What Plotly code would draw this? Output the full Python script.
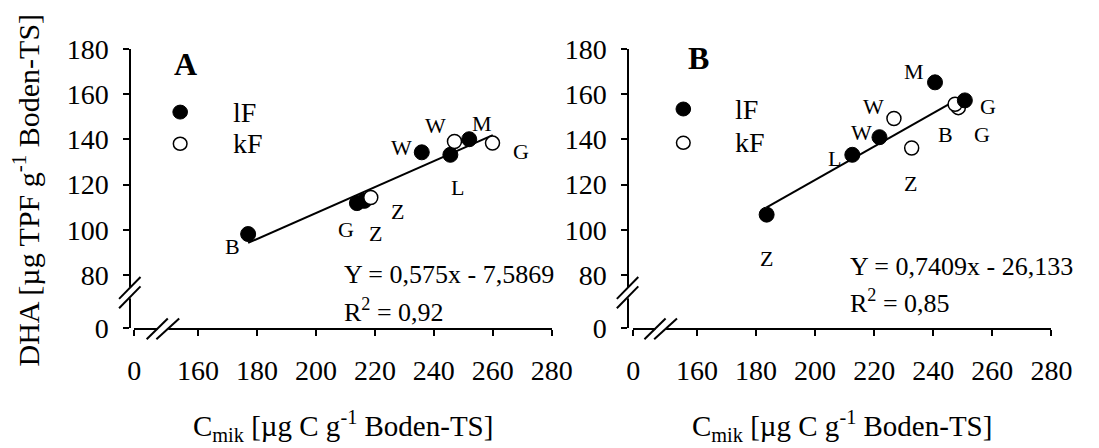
import plotly.graph_objects as go

# --- data: DHA vs. microbial biomass C, two sites (A, B) ---
# lF / kF series, sample labels
a_lf_x = [177.0, 213.9, 216.4, 235.9, 245.6, 252.0]
a_lf_y = [98.1, 111.8, 112.8, 134.3, 133.2, 140.1]
a_lf_lab = ["B", "G", "Z", "W", "L", "M"]
a_kf_x = [218.6, 247.0, 259.9]
a_kf_y = [114.3, 139.1, 138.4]
a_kf_lab = ["Z", "W", "G"]

b_lf_x = [183.6, 212.6, 221.8, 240.6, 250.7]
b_lf_y = [106.7, 133.2, 141.0, 165.3, 157.3]
b_lf_lab = ["Z", "L", "W", "M", "G"]
b_kf_x = [226.7, 232.7, 248.5, 247.4]
b_kf_y = [149.3, 136.2, 154.1, 155.6]
b_kf_lab = ["W", "Z", "B", "G"]

# regression coefficients (slope, intercept, R²) and fitted x-extent
fit_a = (0.575, -7.5869, "0,92")
fit_b = (0.7409, -26.133, "0,85")
fit_a_x = [177.0, 260.0]
fit_b_x = [183.6, 247.6]

x_ticks = [160, 180, 200, 220, 240, 260, 280]
y_ticks = [80, 100, 120, 140, 160, 180]

# --- label offsets in pixels (dx right, dy down) ---
off_a_lf = [(-15.6, 12.7), (-10.7, 26.6), (11.6, 32.4), (-20.7, -4.6), (7.3, 32.7), (12.4, -16)]
off_a_kf = [(26.7, 14.3), (-18.6, -16.4), (28.4, 8.7)]
off_b_lf = [(0, 44.3), (-18, 4), (-18.3, -4.3), (-20.6, -11.3), (23, 5.6)]
off_b_kf = [(-20, -11.7), (-1.6, 35.6), (-12.7, 26.7), (26.5, 30.3)]

W, H = 1099, 448
FONT = "Liberation Serif, Times New Roman, serif"


def fx(px):
    return px / W


def fy(py):
    return 1 - py / H


# broken axes: the lowest tick stands for 0
X_LOW = 138.4
Y_LOW = 56.3
Y_TOP_PX, Y_BOT_PX = 36.7, 336.7

panels = [
    dict(name="A", lf=(a_lf_x, a_lf_y, a_lf_lab, off_a_lf), kf=(a_kf_x, a_kf_y, a_kf_lab, off_a_kf),
         fit=fit_a, fit_x=fit_a_x, yline=126.7, xdom=(130.7, 559.0), letter=(182.7, 52.5),
         leg=(177.7, 104.3, 138.3, 230), eq=(343.3, 279.3, 317.7), kf_on_top=True),
    dict(name="B", lf=(b_lf_x, b_lf_y, b_lf_lab, off_b_lf), kf=(b_kf_x, b_kf_y, b_kf_lab, off_b_kf),
         fit=fit_b, fit_x=fit_b_x, yline=637.5, xdom=(642.5, 1071.7), letter=(710.0, 46.0),
         leg=(694.0, 101.0, 137.3, 745), eq=(862.7, 270.0, 308.3), kf_on_top=False),
]

fig = go.Figure()
annotations = []
shapes = []

for i, p in enumerate(panels):
    sfx = "" if i == 0 else str(i + 1)
    xa, ya = "x" + sfx, "y" + sfx

    lf_x, lf_y, lf_lab, lf_off = p["lf"]
    kf_x, kf_y, kf_lab, kf_off = p["kf"]
    slope, icpt, r2 = p["fit"]

    # regression line from the stated equation
    fig.add_trace(go.Scatter(
        x=p["fit_x"], y=[slope * v + icpt for v in p["fit_x"]], mode="lines",
        line=dict(color="black", width=2), xaxis=xa, yaxis=ya, showlegend=False, hoverinfo="skip"))

    lf_tr = go.Scatter(x=lf_x, y=lf_y, mode="markers", xaxis=xa, yaxis=ya, showlegend=False,
                       marker=dict(size=15, color="black", line=dict(color="black", width=1)))
    kf_tr = go.Scatter(x=kf_x, y=kf_y, mode="markers", xaxis=xa, yaxis=ya, showlegend=False,
                       marker=dict(size=14, color="white", line=dict(color="black", width=1.5)))
    if p["kf_on_top"]:
        fig.add_trace(lf_tr)
        fig.add_trace(kf_tr)
    else:
        fig.add_trace(kf_tr)
        fig.add_trace(lf_tr)

    # sample labels next to points
    for xs, ys, labs, offs in [(lf_x, lf_y, lf_lab, lf_off), (kf_x, kf_y, kf_lab, kf_off)]:
        for xv, yv, lab, (dx, dy) in zip(xs, ys, labs, offs):
            annotations.append(dict(x=xv, y=yv, xref=xa, yref=ya, text=lab, showarrow=False,
                                    xshift=dx, yshift=-dy, xanchor="center", yanchor="middle",
                                    font=dict(family=FONT, size=22, color="black")))

    # axes
    x0, x1 = p["xdom"]
    fig.layout["xaxis" + sfx] = dict(
        domain=[fx(x0), fx(x1)], range=[X_LOW, 280], anchor=ya,
        tickmode="array", tickvals=[X_LOW] + x_ticks, ticktext=["0"] + [str(v) for v in x_ticks],
        ticks="outside", ticklen=6, tickwidth=2, tickcolor="black",
        showline=True, linewidth=2, linecolor="black", showgrid=False, zeroline=False,
        tickfont=dict(family=FONT, size=28, color="black"), ticklabelstandoff=10)
    fig.layout["yaxis" + sfx] = dict(
        domain=[fy(Y_BOT_PX), fy(Y_TOP_PX)], range=[Y_LOW, 180], anchor="free", position=fx(p["yline"]),
        tickmode="array", tickvals=[Y_LOW] + y_ticks, ticktext=["0"] + [str(v) for v in y_ticks],
        ticks="outside", ticklen=6, tickwidth=2, tickcolor="black",
        showline=True, linewidth=2, linecolor="black", showgrid=False, zeroline=False,
        tickfont=dict(family=FONT, size=28, color="black"), ticklabelstandoff=9)

    # axis break marks
    yl = p["yline"]
    dxo = yl - 126.7
    # gaps in axis lines
    shapes.append(dict(type="line", xref="paper", yref="paper", x0=fx(yl), x1=fx(yl),
                       y0=fy(292.5), y1=fy(304.4), line=dict(color="white", width=4)))
    shapes.append(dict(type="line", xref="paper", yref="paper", x0=fx(154.6 + dxo), x1=fx(165.5 + dxo),
                       y0=fy(Y_BOT_PX), y1=fy(Y_BOT_PX), line=dict(color="white", width=4)))
    for (ax0, ay0, ax1, ay1) in [(115, 305, 137, 281.5), (115, 315, 137, 291.5),
                                 (143.3, 348.3, 165, 326), (153.3, 348.3, 176.7, 326)]:
        shapes.append(dict(type="line", xref="paper", yref="paper",
                           x0=fx(ax0 + dxo), y0=fy(ay0), x1=fx(ax1 + dxo), y1=fy(ay1),
                           line=dict(color="black", width=2)))

    # panel letter
    lx, ly = p["letter"]
    annotations.append(dict(x=fx(lx), y=fy(ly), xref="paper", yref="paper", text="<b>%s</b>" % p["name"],
                            showarrow=False, xanchor="center", yanchor="middle",
                            font=dict(family=FONT, size=32, color="black")))

    # legend
    cx, cy1, cy2, tx = p["leg"]
    r1, r2p = 7.5, 7
    shapes.append(dict(type="circle", xref="paper", yref="paper", x0=fx(cx - r1), x1=fx(cx + r1),
                       y0=fy(cy1 + r1), y1=fy(cy1 - r1), fillcolor="black", line=dict(color="black", width=1)))
    shapes.append(dict(type="circle", xref="paper", yref="paper", x0=fx(cx - r2p), x1=fx(cx + r2p),
                       y0=fy(cy2 + r2p), y1=fy(cy2 - r2p), fillcolor="white", line=dict(color="black", width=1.5)))
    for cy, txt in [(cy1, "lF"), (cy2, "kF")]:
        annotations.append(dict(x=fx(tx), y=fy(cy), xref="paper", yref="paper", text=txt, showarrow=False,
                                xanchor="left", yanchor="middle", font=dict(family=FONT, size=28, color="black")))

    # equation and R²
    ex, ey1, ey2 = p["eq"]
    eq_txt = "Y = %sx - %s" % (str(slope).replace(".", ","), str(-icpt).replace(".", ","))
    annotations.append(dict(x=fx(ex), y=fy(ey1), xref="paper", yref="paper", text=eq_txt, showarrow=False,
                            xanchor="left", yanchor="middle", font=dict(family=FONT, size=26, color="black")))
    annotations.append(dict(x=fx(ex), y=fy(ey2), xref="paper", yref="paper", text="R<sup>2</sup> = " + r2,
                            showarrow=False, xanchor="left", yanchor="middle",
                            font=dict(family=FONT, size=26, color="black")))

    # x-axis title
    annotations.append(dict(x=fx((x0 + x1) / 2), y=fy(442), xref="paper", yref="paper",
                            text="C<sub>mik</sub> [µg C g<sup>-1</sup> Boden-TS]", showarrow=False,
                            xanchor="center", yanchor="middle", font=dict(family=FONT, size=29, color="black")))

# y-axis title
annotations.append(dict(x=fx(20), y=fy(188), xref="paper", yref="paper",
                        text="DHA [µg TPF g<sup>-1</sup> Boden-TS]", showarrow=False, textangle=-90,
                        xanchor="center", yanchor="middle", font=dict(family=FONT, size=30, color="black")))

fig.update_layout(width=W, height=H, margin=dict(l=0, r=0, t=0, b=0),
                  paper_bgcolor="white", plot_bgcolor="rgba(0,0,0,0)",
                  annotations=annotations, shapes=shapes, showlegend=False)

fig.write_html("out.html")
